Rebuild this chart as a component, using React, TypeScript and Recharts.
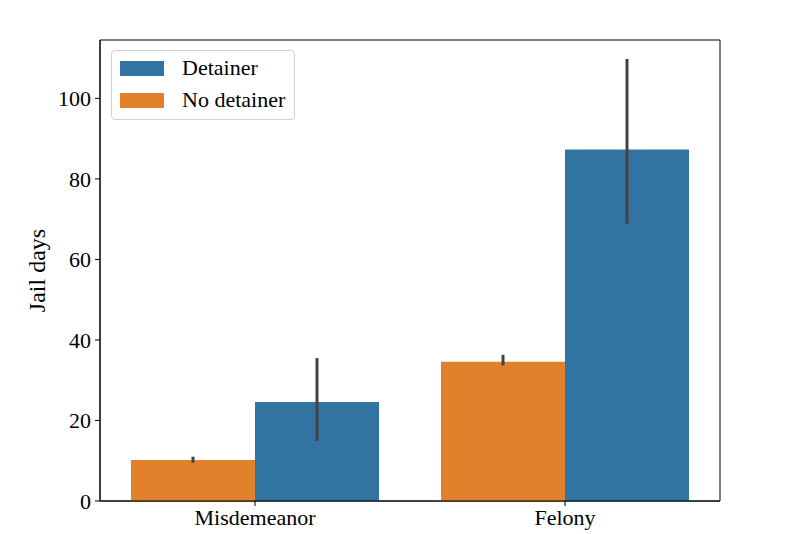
import React from "react";
import { BarChart, Bar, XAxis, YAxis, ErrorBar, ReferenceArea } from "recharts";

const categories = ["Misdemeanor", "Felony"];
const noDetainer = [10.2, 34.6];
const noDetainerLow = [9.5, 33.7];
const noDetainerHigh = [11.0, 36.3];
const detainer = [24.6, 87.3];
const detainerLow = [14.9, 68.9];
const detainerHigh = [35.5, 109.8];
const yTicks = [0, 20, 40, 60, 80, 100];
const yMax = 114.5;

const BLUE = "#3274a1";
const ORANGE = "#e1812c";
const FONT = "'Liberation Serif', 'DejaVu Serif', serif";

const data = categories.map((c, i) => ({
  category: c,
  noDetainer: noDetainer[i],
  noDetainerErr: [noDetainer[i] - noDetainerLow[i], noDetainerHigh[i] - noDetainer[i]],
  detainer: detainer[i],
  detainerErr: [detainer[i] - detainerLow[i], detainerHigh[i] - detainer[i]],
}));

const legendItems = [
  { label: "Detainer", color: BLUE },
  { label: "No detainer", color: ORANGE },
];

const LegendBox = () => (
  <div
    style={{
      position: "absolute",
      left: 111,
      top: 50,
      width: 182,
      height: 68,
      border: "1px solid #d0d0d0",
      borderRadius: 4,
      background: "rgba(255,255,255,0.8)",
      fontFamily: FONT,
      fontSize: 22,
      color: "#000",
    }}
  >
    {legendItems.map((it, i) => (
      <div key={it.label} style={{ position: "absolute", left: 8, top: 9 + i * 32, display: "flex", alignItems: "center", height: 16 }}>
        <div style={{ width: 44, height: 15, background: it.color }} />
        <span style={{ marginLeft: 18, lineHeight: "16px", whiteSpace: "nowrap" }}>{it.label}</span>
      </div>
    ))}
  </div>
);

const tickStyle = { fill: "#000", fontSize: 22, fontFamily: FONT };

export default function App() {
  return (
    <div style={{ position: "absolute", left: 0, top: 0, width: 800, height: 534, background: "#fff" }}>
      <BarChart
        width={800}
        height={534}
        data={data}
        margin={{ top: 40, right: 80, bottom: 3, left: 40 }}
        barCategoryGap="10%"
        barGap={0}
      >
        <XAxis
          dataKey="category"
          tick={tickStyle}
          tickSize={5}
          tickMargin={3}
          height={30}
          stroke="#000"
          axisLine={{ stroke: "#000" }}
          tickLine={{ stroke: "#000" }}
        />
        <YAxis
          domain={[0, yMax]}
          ticks={yTicks}
          tick={tickStyle}
          tickSize={5}
          tickMargin={4}
          width={60}
          stroke="#000"
          axisLine={{ stroke: "#000" }}
          tickLine={{ stroke: "#000" }}
          label={(props: any) => {
            const vb = props.viewBox || { x: 40, y: 40, width: 60, height: 461 };
            const cy = vb.y + vb.height / 2;
            return (
              <text
                x={37}
                y={cy}
                transform={`rotate(-90 37 ${cy})`}
                textAnchor="middle"
                dominantBaseline="central"
                fill="#000"
                style={{ fontSize: 24, fontFamily: FONT }}
              >
                Jail days
              </text>
            );
          }}
        />
        <Bar dataKey="noDetainer" name="No detainer" fill={ORANGE} isAnimationActive={false}>
          <ErrorBar dataKey="noDetainerErr" width={0} strokeWidth={3} stroke="#424242" direction="y" />
        </Bar>
        <Bar dataKey="detainer" name="Detainer" fill={BLUE} isAnimationActive={false}>
          <ErrorBar dataKey="detainerErr" width={0} strokeWidth={3} stroke="#424242" direction="y" />
        </Bar>
        <ReferenceArea y1={0} y2={yMax} fill="none" fillOpacity={0} stroke="#000" strokeWidth={1} ifOverflow="visible" />
      </BarChart>
      <LegendBox />
    </div>
  );
}
